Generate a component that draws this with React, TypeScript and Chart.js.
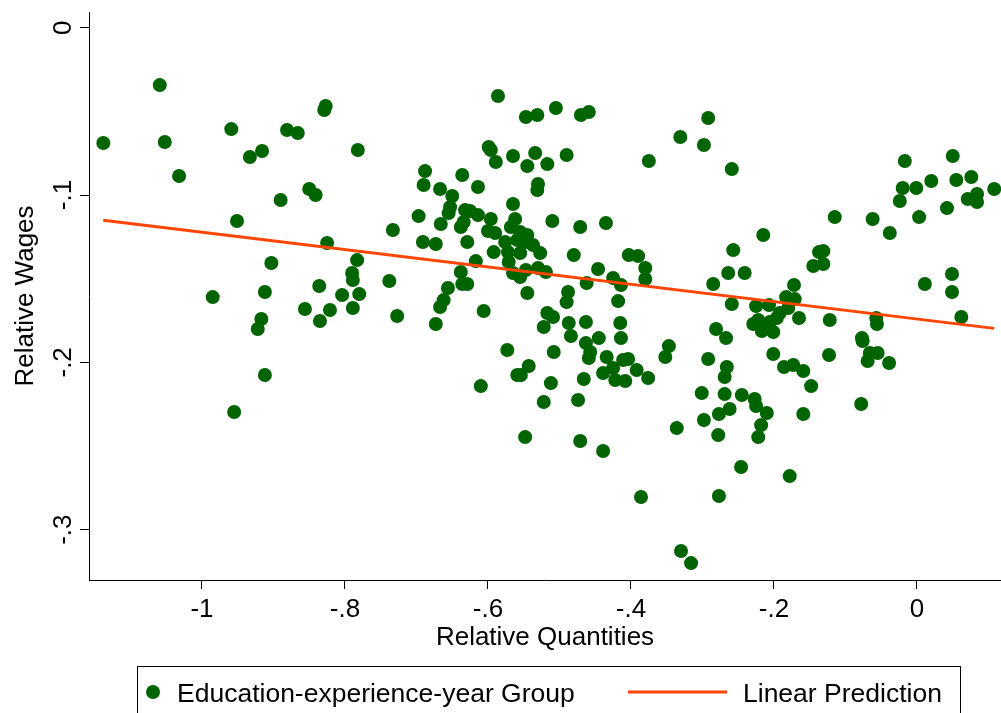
import React, { useEffect, useRef } from "react";
import { Chart, registerables } from "chart.js";

Chart.register(...registerables);

// Education-experience-year groups: relative quantities (x) and relative wages (y)
const groupX = [
  -1.138, -1.059, -1.052, -1.032, -0.959, -0.881, -0.866, -0.933, -0.916, -0.890,
  -0.850, -0.841, -0.951, -0.829, -0.827, -0.825, -0.903, -0.912, -0.985, -0.917,
  -0.922, -0.912, -0.955, -0.836, -0.856, -0.835, -0.821, -0.782, -0.586, -0.547,
  -0.531, -0.599, -0.596, -0.589, -0.565, -0.545, -0.534, -0.530, -0.531, -0.688,
  -0.690, -0.667, -0.636, -0.614, -0.650, -0.653, -0.655, -0.697, -0.666, -0.733,
  -0.632, -0.625, -0.614, -0.634, -0.638, -0.596, -0.565, -0.562, -0.568, -0.600,
  -0.590, -0.555, -0.545, -0.576, -0.559, -0.551, -0.537, -0.691, -0.673, -0.629,
  -0.592, -0.572, -0.555, -0.783, -0.617, -0.790, -0.789, -0.804, -0.780, -0.789,
  -0.738, -0.727, -0.638, -0.636, -0.629, -0.656, -0.662, -0.667, -0.673, -0.606,
  -0.571, -0.565, -0.555, -0.547, -0.545, -0.530, -0.573, -0.543, -0.559, -0.554,
  -0.610, -0.548, -0.505, -0.470, -0.459, -0.292, -0.331, -0.298, -0.375, -0.259,
  -0.517, -0.490, -0.510, -0.471, -0.435, -0.527, -0.480, -0.403, -0.390, -0.380,
  -0.446, -0.257, -0.264, -0.241, -0.425, -0.380, -0.285, -0.519, -0.462, -0.414,
  -0.488, -0.490, -0.418, -0.517, -0.509, -0.522, -0.487, -0.463, -0.415, -0.259,
  -0.484, -0.445, -0.414, -0.463, -0.457, -0.459, -0.508, -0.434, -0.425, -0.439,
  -0.422, -0.408, -0.411, -0.404, -0.392, -0.376, -0.466, -0.347, -0.352, -0.292,
  -0.281, -0.267, -0.266, -0.269, -0.512, -0.522, -0.474, -0.301, -0.269, -0.245,
  -0.277, -0.262, -0.298, -0.336, -0.278, -0.471, -0.439, -0.246, -0.386, -0.277,
  -0.330, -0.316, -0.017, 0.050, -0.020, -0.001, 0.020, 0.055, 0.076, 0.108,
  -0.024, 0.042, 0.071, 0.084, 0.084, 0.003, -0.062, -0.115, -0.038, -0.215,
  -0.137, -0.131, -0.145, -0.131, -0.172, 0.049, 0.011, 0.049, -0.183, -0.171,
  -0.225, -0.207, -0.180, -0.192, -0.196, -0.229, -0.222, -0.217, -0.206, -0.201,
  -0.165, -0.122, -0.057, -0.056, 0.062, -0.077, -0.076, -0.201, -0.123, -0.066,
  -0.055, -0.069, -0.039, -0.186, -0.173, -0.159, -0.148, -0.227, -0.225, -0.210,
  -0.218, -0.222, -0.159, -0.078, -0.178,
];

const groupY = [
  -0.0689, -0.0343, -0.0683, -0.0886, -0.0606, -0.0611, -0.0629, -0.0773, -0.0737, -0.1030,
  -0.0964, -0.1000, -0.1155, -0.0492, -0.0468, -0.1287, -0.1406, -0.1580, -0.1610, -0.1741,
  -0.1801, -0.2076, -0.2297, -0.1544, -0.1681, -0.1753, -0.1687, -0.0731, -0.0408, -0.0534,
  -0.0522, -0.0713, -0.0731, -0.0803, -0.0767, -0.0827, -0.0749, -0.0934, -0.0970, -0.0857,
  -0.0940, -0.0964, -0.0880, -0.0952, -0.1006, -0.1072, -0.1108, -0.1126, -0.1173, -0.1209,
  -0.1090, -0.1096, -0.1120, -0.1161, -0.1191, -0.1143, -0.1054, -0.1143, -0.1191, -0.1215,
  -0.1227, -0.1221, -0.1239, -0.1281, -0.1269, -0.1287, -0.1299, -0.1281, -0.1293, -0.1281,
  -0.1341, -0.1341, -0.1347, -0.1389, -0.1395, -0.1466, -0.1508, -0.1598, -0.1592, -0.1675,
  -0.1514, -0.1723, -0.1460, -0.1532, -0.1532, -0.1556, -0.1628, -0.1669, -0.1771, -0.1693,
  -0.1400, -0.1466, -0.1490, -0.1448, -0.1586, -0.1436, -0.1926, -0.2022, -0.2076, -0.2076,
  -0.2142, -0.2447, -0.0480, -0.0522, -0.0504, -0.0540, -0.0653, -0.0701, -0.0797, -0.0845,
  -0.0815, -0.0761, -0.1155, -0.1191, -0.1167, -0.1347, -0.1359, -0.1359, -0.1365, -0.1436,
  -0.1442, -0.1329, -0.1466, -0.1466, -0.1496, -0.1502, -0.1532, -0.1460, -0.1526, -0.1538,
  -0.1580, -0.1640, -0.1634, -0.1705, -0.1729, -0.1789, -0.1765, -0.1759, -0.1765, -0.1652,
  -0.1843, -0.1855, -0.1855, -0.1885, -0.1938, -0.1974, -0.1938, -0.1968, -0.2034, -0.2064,
  -0.2106, -0.2112, -0.1986, -0.1980, -0.2046, -0.2094, -0.2100, -0.1903, -0.1968, -0.1980,
  -0.1801, -0.1855, -0.2028, -0.2088, -0.2124, -0.2237, -0.2225, -0.2184, -0.2190, -0.2195,
  -0.2309, -0.2279, -0.2345, -0.2393, -0.2435, -0.2470, -0.2530, -0.2626, -0.2805, -0.2799,
  -0.3128, -0.3200, -0.0797, -0.0767, -0.0958, -0.0958, -0.0916, -0.0910, -0.0892, -0.0964,
  -0.1036, -0.1078, -0.1024, -0.0994, -0.1042, -0.1132, -0.1143, -0.1132, -0.1227, -0.1239,
  -0.1341, -0.1335, -0.1424, -0.1412, -0.1538, -0.1472, -0.1532, -0.1580, -0.1610, -0.1622,
  -0.1664, -0.1658, -0.1675, -0.1705, -0.1735, -0.1771, -0.1747, -0.1813, -0.1759, -0.1819,
  -0.1735, -0.1747, -0.1735, -0.1771, -0.1729, -0.1855, -0.1873, -0.1950, -0.1956, -0.1944,
  -0.1944, -0.1992, -0.2004, -0.2028, -0.2016, -0.2052, -0.2142, -0.2219, -0.2261, -0.2303,
  -0.2375, -0.2447, -0.2309, -0.2249, -0.2680,
];

// Linear prediction (fitted line) end points
const fitX = [-1.138, 0.108];
const fitY = [-0.1151, -0.1797];

const xTickValues = [-1, -0.8, -0.6, -0.4, -0.2, 0];
const xTickLabels = ["-1", "-.8", "-.6", "-.4", "-.2", "0"];
const yTickValues = [0, -0.1, -0.2, -0.3];
const yTickLabels = ["0", "-.1", "-.2", "-.3"];

const xTitle = "Relative Quantities";
const yTitle = "Relative Wages";
const seriesNames = ["Education-experience-year Group", "Linear Prediction"];

const GREEN = "rgb(0,100,0)";
const ORANGE = "rgb(255,69,0)";
const FONT = '"Liberation Sans", Arial, Helvetica, sans-serif';
const W = 1001;
const H = 713;

export default function App() {
  const canvasRef = useRef<HTMLCanvasElement | null>(null);

  useEffect(() => {
    document.body.style.margin = "0";
    const canvas = canvasRef.current;
    if (!canvas) return;

    const textPlugin = {
      id: "stataText",
      afterDraw(chart: any) {
        const ctx = chart.ctx as CanvasRenderingContext2D;
        const xs = chart.scales.x;
        const ys = chart.scales.y;
        const area = chart.chartArea;
        ctx.save();
        ctx.fillStyle = "#000";

        // x tick labels
        ctx.font = `26px ${FONT}`;
        ctx.textAlign = "center";
        ctx.textBaseline = "alphabetic";
        xTickValues.forEach((v, i) => {
          ctx.fillText(xTickLabels[i], xs.getPixelForValue(v), area.bottom + 37);
        });

        // x title
        ctx.font = `26px ${FONT}`;
        ctx.fillText(xTitle, (area.left + area.right) / 2, area.bottom + 65);

        // y tick labels (rotated)
        ctx.font = `26px ${FONT}`;
        yTickValues.forEach((v, i) => {
          ctx.save();
          ctx.translate(area.left - 27, ys.getPixelForValue(v));
          ctx.rotate(-Math.PI / 2);
          ctx.textAlign = "center";
          ctx.fillText(yTickLabels[i], 0, 9.3);
          ctx.restore();
        });

        // y title
        ctx.save();
        ctx.translate(24, (area.top + area.bottom) / 2);
        ctx.rotate(-Math.PI / 2);
        ctx.textAlign = "center";
        ctx.font = `26px ${FONT}`;
        ctx.fillText(yTitle, 0, 9.3);
        ctx.restore();

        // legend box
        ctx.strokeStyle = "#000";
        ctx.lineWidth = 1;
        ctx.strokeRect(137.5, 666.5, 823, 80);

        ctx.fillStyle = GREEN;
        ctx.beginPath();
        ctx.arc(153, 692, 7, 0, Math.PI * 2);
        ctx.fill();

        ctx.fillStyle = "#000";
        ctx.textAlign = "left";
        ctx.font = `26.5px ${FONT}`;
        ctx.fillText(seriesNames[0], 177, 701.5);

        ctx.strokeStyle = ORANGE;
        ctx.lineWidth = 3;
        ctx.beginPath();
        ctx.moveTo(628, 692);
        ctx.lineTo(727, 692);
        ctx.stroke();

        ctx.fillText(seriesNames[1], 743, 701.5);
        ctx.restore();
      },
    };

    const chart = new Chart(canvas, {
      type: "scatter",
      data: {
        datasets: [
          {
            type: "line",
            label: seriesNames[1],
            data: fitX.map((x, i) => ({ x, y: fitY[i] })),
            borderColor: ORANGE,
            borderWidth: 3,
            pointRadius: 0,
            fill: false,
            order: 0,
          } as any,
          {
            type: "scatter",
            label: seriesNames[0],
            data: groupX.map((x, i) => ({ x, y: groupY[i] })),
            backgroundColor: GREEN,
            borderColor: GREEN,
            borderWidth: 0,
            pointRadius: 7,
            pointHoverRadius: 7,
            order: 1,
          },
        ],
      },
      options: {
        responsive: false,
        animation: false,
        events: [],
        layout: { autoPadding: false, padding: { top: 12, left: 0, right: 0, bottom: 0 } },
        plugins: {
          legend: { display: false },
          tooltip: { enabled: false },
          title: { display: false },
        },
        scales: {
          x: {
            type: "linear",
            min: -1.158,
            max: 0.1175,
            ticks: { display: false },
            afterBuildTicks: (s: any) => {
              s.ticks = xTickValues.map((v) => ({ value: v }));
            },
            afterFit: (s: any) => {
              s.height = 133;
              s.paddingLeft = 0;
              s.paddingRight = 0;
            },
            grid: {
              display: true,
              drawOnChartArea: false,
              drawTicks: true,
              tickLength: 9,
              color: "#000",
              lineWidth: 1,
            },
            border: { display: true, color: "#000", width: 1 },
          },
          y: {
            type: "linear",
            min: -0.3301,
            max: 0.0094,
            ticks: { display: false },
            afterBuildTicks: (s: any) => {
              s.ticks = yTickValues.map((v) => ({ value: v }));
            },
            afterFit: (s: any) => {
              s.width = 89;
              s.paddingTop = 0;
              s.paddingBottom = 0;
            },
            grid: {
              display: true,
              drawOnChartArea: false,
              drawTicks: true,
              tickLength: 9,
              color: "#000",
              lineWidth: 1,
            },
            border: { display: true, color: "#000", width: 1 },
          },
        },
      },
      plugins: [textPlugin],
    });

    return () => chart.destroy();
  }, []);

  return (
    <div style={{ width: W, height: H, background: "#fff", position: "relative" }}>
      <canvas ref={canvasRef} width={W} height={H} style={{ width: W, height: H, display: "block" }} />
    </div>
  );
}
